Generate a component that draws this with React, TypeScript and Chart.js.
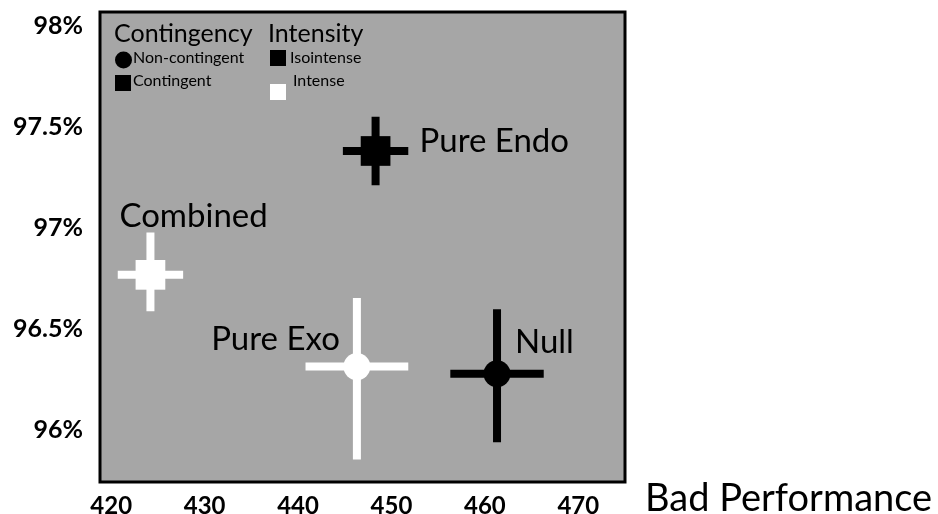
import React, { useEffect, useRef } from 'react';
import { Chart, registerables } from 'chart.js';

Chart.register(...registerables);

// ---------- data ----------
const conditions = ['Combined', 'Pure Endo', 'Pure Exo', 'Null'];
const badPerformance = [424.2, 448.3, 446.3, 461.3];
const accuracy = [96.767, 97.381, 96.312, 96.277];
const performanceError = [3.5, 3.5, 5.5, 5.0];
const accuracyErrorUp = [0.21, 0.17, 0.34, 0.32];
const accuracyErrorDown = [0.18, 0.17, 0.46, 0.34];
const contingency = ['Contingent', 'Contingent', 'Non-contingent', 'Non-contingent'];
const intensity = ['Intense', 'Isointense', 'Intense', 'Isointense'];
const xTickValues = [420, 430, 440, 450, 460, 470];
const yTickValues = [96, 96.5, 97, 97.5, 98];
const xAxisTitle = 'Bad Performance';
const legendContingencyTitle = 'Contingency';
const legendIntensityTitle = 'Intensity';
const legendContingencyItems = ['Non-contingent', 'Contingent'];
const legendIntensityItems = ['Isointense', 'Intense'];

// ---------- styling ----------
const FONT = 'Lato, "Open Sans", sans-serif';
const PLOT_BG = '#a6a6a6';
const colorFor = (i: string) => (i === 'Intense' ? '#ffffff' : '#000000');
const shapeFor = (c: string) => (c === 'Contingent' ? 'rect' : 'circle');
const radiusFor = (c: string) => (c === 'Contingent' ? 21 : 13.5);

// label offsets (pixels) relative to each point: [dx, dy, align]
const labelPlacement: [number, number, CanvasTextAlign][] = [
  [-31, -48, 'left'],
  [44, 1, 'left'],
  [-17, -17, 'right'],
  [18, -21, 'left'],
];

const decorPlugin = {
  id: 'decor',
  beforeDraw(chart: any) {
    const { ctx, chartArea: a } = chart;
    ctx.save();
    ctx.fillStyle = PLOT_BG;
    ctx.fillRect(a.left, a.top, a.right - a.left, a.bottom - a.top);
    ctx.restore();
  },
  beforeDatasetsDraw(chart: any) {
    const { ctx } = chart;
    const xs = chart.scales.x;
    const ys = chart.scales.y;
    ctx.save();
    ctx.lineWidth = 8;
    ctx.lineCap = 'butt';
    conditions.forEach((_, i) => {
      ctx.strokeStyle = colorFor(intensity[i]);
      const cx = xs.getPixelForValue(badPerformance[i]);
      const cy = ys.getPixelForValue(accuracy[i]);
      const x0 = xs.getPixelForValue(badPerformance[i] - performanceError[i]);
      const x1 = xs.getPixelForValue(badPerformance[i] + performanceError[i]);
      const y0 = ys.getPixelForValue(accuracy[i] + accuracyErrorUp[i]);
      const y1 = ys.getPixelForValue(accuracy[i] - accuracyErrorDown[i]);
      ctx.beginPath();
      ctx.moveTo(x0, cy);
      ctx.lineTo(x1, cy);
      ctx.moveTo(cx, y0);
      ctx.lineTo(cx, y1);
      ctx.stroke();
    });
    ctx.restore();
  },
  afterDatasetsDraw(chart: any) {
    const { ctx, chartArea: a } = chart;
    const xs = chart.scales.x;
    const ys = chart.scales.y;
    ctx.save();
    // border
    ctx.strokeStyle = '#000';
    ctx.lineWidth = 3;
    ctx.strokeRect(a.left, a.top, a.right - a.left, a.bottom - a.top);

    // point labels
    ctx.fillStyle = '#000';
    ctx.textBaseline = 'alphabetic';
    ctx.font = `33px ${FONT}`;
    conditions.forEach((name, i) => {
      const [dx, dy, align] = labelPlacement[i];
      ctx.textAlign = align;
      ctx.fillText(
        name,
        xs.getPixelForValue(badPerformance[i]) + dx,
        ys.getPixelForValue(accuracy[i]) + dy
      );
    });

    // legend
    const lx = a.left + 14;
    const lx2 = a.left + 168;
    ctx.textAlign = 'left';
    ctx.font = `25px ${FONT}`;
    ctx.fillText(legendContingencyTitle, lx, a.top + 30);
    ctx.fillText(legendIntensityTitle, lx2, a.top + 30);
    ctx.font = `16px ${FONT}`;
    // contingency items
    ctx.fillStyle = '#000';
    ctx.beginPath();
    ctx.arc(lx + 9.5, a.top + 48, 8.5, 0, Math.PI * 2);
    ctx.fill();
    ctx.fillText(legendContingencyItems[0], lx + 19, a.top + 51);
    ctx.fillRect(lx + 1, a.top + 63, 16, 16);
    ctx.fillText(legendContingencyItems[1], lx + 19, a.top + 74);
    // intensity items
    ctx.fillRect(lx2 + 2, a.top + 38, 16, 16);
    ctx.fillText(legendIntensityItems[0], lx2 + 22, a.top + 51);
    ctx.fillStyle = '#fff';
    ctx.fillRect(lx2 + 2, a.top + 72, 16, 16);
    ctx.fillStyle = '#000';
    ctx.fillText(legendIntensityItems[1], lx2 + 25, a.top + 74);

    // x axis title to the right
    ctx.font = `38px ${FONT}`;
    ctx.textAlign = 'left';
    ctx.fillText(xAxisTitle, a.right + 20, a.bottom + 29);
    ctx.restore();
  },
};

export default function App() {
  const ref = useRef<HTMLCanvasElement | null>(null);
  useEffect(() => {
    if (!ref.current) return;
    const chart = new Chart(ref.current, {
      type: 'scatter',
      data: {
        datasets: [
          {
            label: 'Conditions',
            data: conditions.map((_, i) => ({ x: badPerformance[i], y: accuracy[i] })),
            pointStyle: contingency.map(shapeFor) as any,
            pointRadius: contingency.map(radiusFor),
            pointHoverRadius: contingency.map(radiusFor),
            backgroundColor: intensity.map(colorFor),
            borderColor: intensity.map(colorFor),
            borderWidth: 0,
          },
        ],
      },
      options: {
        responsive: false,
        animation: false,
        events: [],
        layout: { autoPadding: false, padding: { top: 12, right: 313, left: 0, bottom: 0 } },
        plugins: { legend: { display: false }, tooltip: { enabled: false } },
        scales: {
          x: {
            type: 'linear',
            min: 418.8,
            max: 475,
            grid: { display: false },
            border: { display: false },
            afterBuildTicks: (s: any) => {
              s.ticks = xTickValues.map((v) => ({ value: v }));
            },
            afterFit: (s: any) => {
              s.height = 32;
              s.paddingLeft = 0;
              s.paddingRight = 0;
            },
            ticks: {
              color: '#000',
              padding: 2,
              maxRotation: 0,
              font: { family: FONT, size: 24, weight: 'bold' },
              callback: (v: any) => String(v),
            },
          },
          y: {
            type: 'linear',
            min: 95.74,
            max: 98.07,
            grid: { display: false },
            border: { display: false },
            afterBuildTicks: (s: any) => {
              s.ticks = yTickValues.map((v) => ({ value: v }));
            },
            afterFit: (s: any) => {
              s.width = 100;
              s.paddingTop = 0;
              s.paddingBottom = 0;
            },
            ticks: {
              color: '#000',
              padding: 9,
              font: { family: FONT, size: 25, weight: 'bold' },
              callback: (v: any) => `${v}%`,
            },
          },
        },
      },
      plugins: [decorPlugin],
    });
    return () => chart.destroy();
  }, []);
  return (
    <div style={{ position: 'fixed', left: 0, top: 0, width: 938, height: 514, background: '#fff' }}>
      <canvas ref={ref} width={938} height={514} style={{ display: 'block' }} />
    </div>
  );
}
